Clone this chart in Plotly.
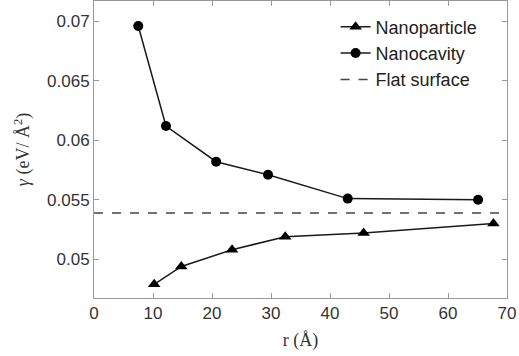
import plotly.graph_objects as go

np_r = [10.2, 14.8, 23.4, 32.4, 45.7, 67.7]
np_gamma = [0.0479, 0.0494, 0.0508, 0.0519, 0.0522, 0.0530]
nc_r = [7.5, 12.2, 20.7, 29.5, 43.0, 65.1]
nc_gamma = [0.0696, 0.0612, 0.0582, 0.0571, 0.0551, 0.0550]
flat_gamma = 0.0539
x_ticks = [0, 10, 20, 30, 40, 50, 60, 70]
y_ticks = [0.05, 0.055, 0.06, 0.065, 0.07]
y_labels = ["0.05", "0.055", "0.06", "0.065", "0.07"]

fig = go.Figure()
fig.add_trace(go.Scatter(x=np_r, y=np_gamma, mode="lines+markers", name="Nanoparticle",
                         line=dict(color="#1a1a1a", width=1.5),
                         marker=dict(symbol="triangle-up", size=11, color="black")))
fig.add_trace(go.Scatter(x=nc_r, y=nc_gamma, mode="lines+markers", name="Nanocavity",
                         line=dict(color="#1a1a1a", width=1.5),
                         marker=dict(symbol="circle", size=10, color="black")))
fig.add_trace(go.Scatter(x=[0, 70], y=[flat_gamma, flat_gamma], mode="lines", name="Flat surface",
                         line=dict(color="#444", width=1.5, dash="dash")))

axis_common = dict(showline=True, linecolor="#999", linewidth=1, mirror="ticks",
                   ticks="inside", ticklen=5, tickcolor="#999", showgrid=False, zeroline=False,
                   tickfont=dict(family="Liberation Sans, Arial", size=17, color="#333"))
fig.update_xaxes(range=[0, 70], tickvals=x_ticks,
                 title=dict(text="r (Å)", font=dict(family="Liberation Serif, Times New Roman", size=18, color="#333"), standoff=10),
                 **axis_common)
fig.update_yaxes(range=[0.04675, 0.0717], tickvals=y_ticks, ticktext=y_labels,
                 title=dict(text="<i>γ</i> (eV/ Å<sup>2</sup>)", font=dict(family="Liberation Serif, Times New Roman", size=18, color="#333"), standoff=12),
                 **axis_common)
fig.update_layout(width=519, height=356, margin=dict(l=94, r=12, t=1, b=58),
                  plot_bgcolor="white", paper_bgcolor="white",
                  legend=dict(x=0.585, y=0.975, xanchor="left", yanchor="top", bgcolor="rgba(0,0,0,0)",
                              font=dict(family="Liberation Sans, Arial", size=18, color="#222"),
                              tracegroupgap=0, itemwidth=30))
fig.write_html("out.html")
